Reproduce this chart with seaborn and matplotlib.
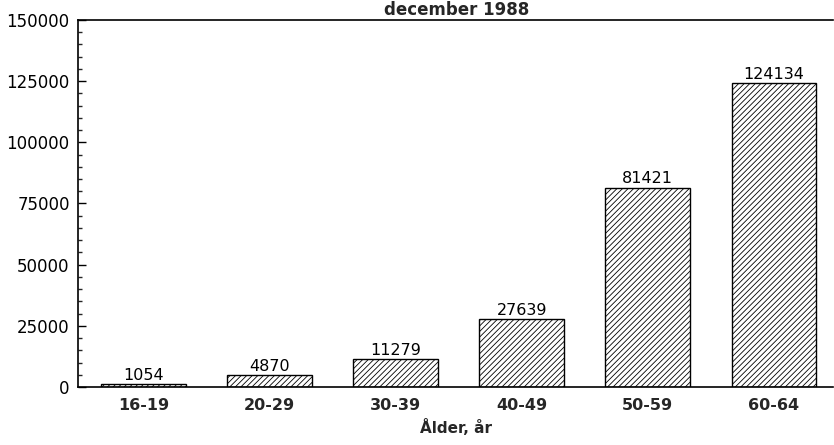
import matplotlib
matplotlib.use("Agg")
import matplotlib.pyplot as plt
import seaborn as sns
import pandas as pd
from matplotlib.ticker import MultipleLocator

categories = ["16-19", "20-29", "30-39", "40-49", "50-59", "60-64"]
values = [1054, 4870, 11279, 27639, 81421, 124134]
title = "december 1988"
xlabel = "Ålder, år"
yticks = [0, 25000, 50000, 75000, 100000, 125000, 150000]

sns.set_theme(style="ticks")
plt.rcParams["font.family"] = ["DejaVu Sans"]
plt.rcParams["hatch.linewidth"] = 0.6
plt.rcParams["hatch.color"] = "#333333"

df = pd.DataFrame({"age": categories, "count": values})

fig = plt.figure(figsize=(8.34, 4.45), dpi=100)
ax = fig.add_axes([78 / 834, (445 - 387) / 445, (833 - 78) / 834, (387 - 20) / 445])

sns.barplot(data=df, x="age", y="count", color="white", edgecolor="black",
            linewidth=1.0, width=0.67, ax=ax, saturation=1)
for p in ax.patches:
    p.set_hatch("//////")
    p.set_facecolor("white")
    p.set_edgecolor("black")

for c in ax.containers:
    ax.bar_label(c, fmt="%d", padding=1, fontsize=11.5, color="black")

ax.set_xlim(-0.52, 5.47)
ax.set_ylim(0, 150000)
ax.set_yticks(yticks)
ax.set_yticklabels([str(v) for v in yticks])
ax.yaxis.set_minor_locator(MultipleLocator(5000))
ax.tick_params(axis="y", which="major", direction="in", length=6, width=1,
               labelsize=12, pad=6, colors="black")
ax.tick_params(axis="y", which="minor", direction="in", length=3, width=1)
ax.tick_params(axis="x", length=0, labelsize=11.5, pad=8)
for lbl in ax.get_xticklabels():
    lbl.set_fontweight("bold")

ax.set_xlabel(xlabel, fontsize=11, fontweight="bold", labelpad=4)
ax.set_ylabel("")

for s in ["left", "bottom", "top"]:
    ax.spines[s].set_visible(True)
    ax.spines[s].set_color("black")
    ax.spines[s].set_linewidth(1.2)
ax.spines["right"].set_visible(False)

fig.text(0.547, 0.998, title, ha="center", va="top", fontsize=12,
         fontweight="bold")

fig.savefig("out.png", dpi=100, facecolor="white")
